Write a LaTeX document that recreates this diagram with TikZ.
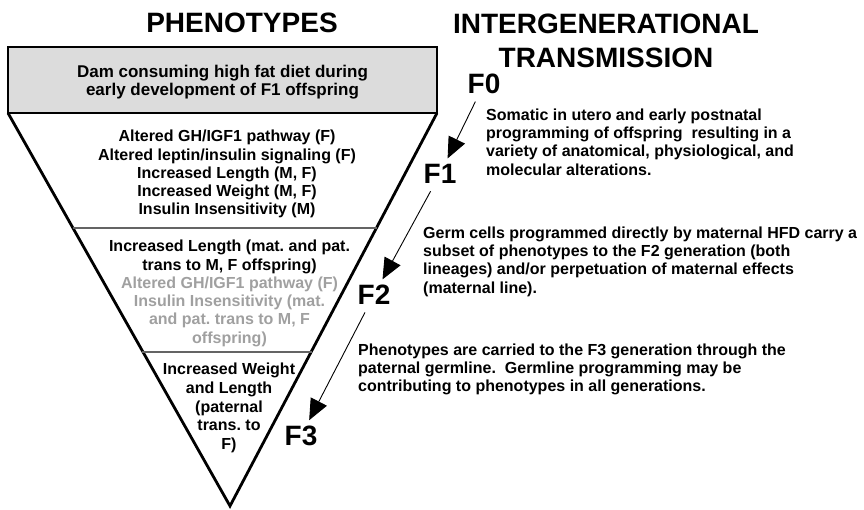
\documentclass[tikz,border=0pt]{standalone}
\usepackage{fontspec}
\setmainfont{Liberation Sans}
\usetikzlibrary{arrows.meta}
\frenchspacing
\definecolor{boxgray}{RGB}{220,220,220}
\definecolor{txtgray}{RGB}{160,160,160}
\definecolor{divgray}{RGB}{100,100,100}
\tikzset{
  header/.style={font=\bfseries\fontsize{28}{30}\selectfont, anchor=base, inner sep=0pt},
  gen/.style={font=\bfseries\fontsize{28}{30}\selectfont, inner sep=3pt},
  phen/.style={font=\bfseries\fontsize{16}{18.3}\selectfont, align=center, anchor=north, inner sep=0pt},
  desc/.style={font=\bfseries\fontsize{16}{18.3}\selectfont, align=left, anchor=north west, inner sep=0pt},
  transarrow/.style={line width=0.9pt, -{Triangle[length=21pt,width=18pt]}, shorten >=3pt, shorten <=5pt},
  edge/.style={line width=2.8pt, line join=miter},
  divider/.style={line width=1.4pt, draw=divgray}
}
\begin{document}
\begin{tikzpicture}[x=1pt,y=-1pt]
\useasboundingbox (0,0) rectangle (864,510);
% triangle and box
\coordinate (tl) at (8,113);
\coordinate (tr) at (437,113);
\coordinate (apex) at (230,506);
\draw[edge] (tl) -- (apex) -- (tr);
\draw[divider] (72.6,228) -- (376.7,228);
\draw[divider] (142.3,352) -- (311.8,352);
\draw[edge, fill=boxgray] (8,47) rectangle (437,113);
% headers
\node[header] (hphen) at (242,33) {PHENOTYPES};
\node[header] (hinter) at (606,34) {INTERGENERATIONAL};
\node[header] (htrans) at (606,68) {TRANSMISSION};
% box text
\node[phen, font=\bfseries\fontsize{17}{18}\selectfont] (dam) at (222.5,64.5) {Dam consuming high fat diet during\\early development of F1 offspring};
% sections
\node[phen] (s1) at (227,130) {Altered GH/IGF1 pathway (F)\\Altered leptin/insulin signaling (F)\\Increased Length (M, F)\\Increased Weight (M, F)\\Insulin Insensitivity (M)};
\node[phen] (s2) at (229.5,240) {Increased Length (mat. and pat.\\trans to M, F offspring)\\\textcolor{txtgray}{Altered GH/IGF1 pathway (F)}\\\textcolor{txtgray}{Insulin Insensitivity (mat.}\\\textcolor{txtgray}{and pat. trans to M, F}\\\textcolor{txtgray}{offspring)}};
\node[phen, font=\bfseries\fontsize{16}{18.7}\selectfont] (s3) at (229,363) {Increased Weight\\and Length\\(paternal\\trans. to\\F)};
% generation labels
\node[gen] (F0) at (484,84) {F0};
\node[gen] (F1) at (440,174) {F1};
\node[gen] (F2) at (374,295) {F2};
\node[gen] (F3) at (301,436) {F3};
\draw[transarrow] (F0) -- (F1);
\draw[transarrow] (F1) -- (F2);
\draw[transarrow] (F2) -- (F3);
% descriptions
\node[desc] (d1) at (486,108.5) {Somatic in utero and early postnatal\\programming of offspring\ \ resulting in a\\variety of anatomical, physiological, and\\molecular alterations.};
\node[desc] (d2) at (423,226.5) {Germ cells programmed directly by maternal HFD carry a\\subset of phenotypes to the F2 generation (both\\lineages) and/or perpetuation of maternal effects\\(maternal line).};
\node[desc] (d3) at (358,343.5) {Phenotypes are carried to the F3 generation through the\\paternal germline.\ \ Germline programming may be\\contributing to phenotypes in all generations.};
\end{tikzpicture}
\end{document}
